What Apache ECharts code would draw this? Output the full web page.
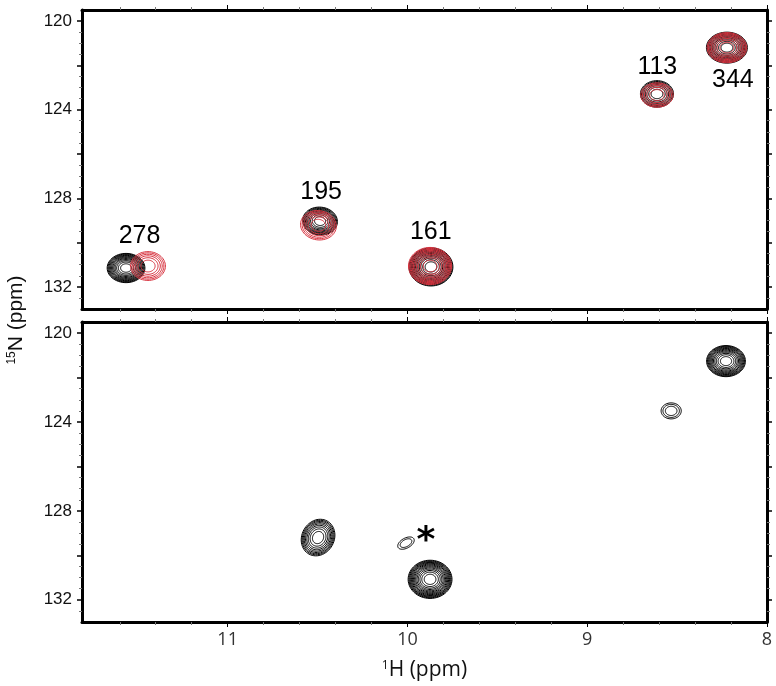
<!DOCTYPE html>
<html><head><meta charset="utf-8">
<script src="https://cdn.jsdelivr.net/npm/echarts@6/dist/echarts.min.js"></script>
<style>html,body{margin:0;padding:0;background:#fff}#c{width:776px;height:686px}</style>
</head><body><div id="c"></div>
<script>
// ---------- axis ticks ----------
const xTickLabels = [8, 9, 10, 11];
const xMajorTicks = [8, 9, 10, 11];
const xMinorTicks = [8.2, 8.4, 8.6, 8.8, 9.2, 9.4, 9.6, 9.8, 10.2, 10.4, 10.6, 10.8, 11.2, 11.4, 11.6];
const yTickLabels = [120, 124, 128, 132];
const yMajorTicks = [120, 122, 124, 126, 128, 130, 132];
const yMinorTicks = [120.5, 121, 121.5, 122.5, 123, 123.5, 124.5, 125, 125.5, 126.5, 127, 127.5,
  128.5, 129, 129.5, 130.5, 131, 131.5, 132.5];

// ---------- top panel, black spectrum ----------
const topBlackH   = [11.565, 10.486, 9.869, 8.612, 8.223];
const topBlackN   = [131.15, 129.03, 131.10, 123.29, 121.20];
const topBlackWH  = [0.105, 0.097, 0.122, 0.092, 0.114];   // half widths (ppm)
const topBlackWN  = [0.66, 0.63, 0.86, 0.60, 0.70];
const topBlackLev = [12, 10, 14, 8, 12];
const topBlackTilt = [0, 0.1, 0, 0, 0];

// ---------- top panel, red spectrum ----------
const topRedH   = [11.443, 10.495, 9.874, 8.612, 8.223];
const topRedN   = [131.06, 129.22, 131.06, 123.34, 121.20];
const topRedWH  = [0.097, 0.100, 0.120, 0.090, 0.110];
const topRedWN  = [0.65, 0.66, 0.84, 0.55, 0.68];
const topRedLev = [6, 6, 10, 5, 8];
const topRedTilt = [0, 0.15, 0, 0, 0];

// ---------- bottom panel, black spectrum ----------
const botH   = [10.497, 10.008, 9.874, 8.533, 8.228];
const botN   = [129.20, 129.45, 131.08, 123.50, 121.26];
const botWH  = [0.090, 0.050, 0.122, 0.056, 0.108];
const botWN  = [0.85, 0.225, 0.86, 0.36, 0.70];
const botLev = [9, 2, 14, 3, 12];
const botTilt = [0.5, -0.5, 0, 0, 0];

// ---------- annotations ----------
const peakLabels = ['278', '195', '161', '113', '344'];
const peakLabelH = [11.49, 10.48, 9.87, 8.61, 8.19];
const peakLabelN = [129.73, 127.70, 129.55, 122.07, 122.66];
const starH = [9.897];
const starN = [129.38];

function rows(H, N, WH, WN, L, T) {
  return H.map((h, i) => [h, N[i], WH[i], WN[i], L[i], T[i]]);
}

function contourRender(color) {
  return function (params, api) {
    const c = api.coord([api.value(0), api.value(1)]);
    const s = api.size([api.value(2), api.value(3)]);
    const n = api.value(4), th = api.value(5);
    const children = [];
    for (let k = 0; k < n; k++) {
      const f = Math.sqrt((n - k) / n);
      const rx = s[0] * f, ry = s[1] * f;
      const pts = [];
      for (let i = 0; i < 60; i++) {
        const t = i / 60 * 2 * Math.PI;
        const ex = rx * Math.cos(t), ey = ry * Math.sin(t);
        pts.push([c[0] + ex * Math.cos(th) - ey * Math.sin(th),
                  c[1] + ex * Math.sin(th) + ey * Math.cos(th)]);
      }
      children.push({ type: 'polygon', shape: { points: pts },
        style: { fill: null, stroke: color, lineWidth: 1 } });
    }
    return { type: 'group', children };
  };
}

const RED = '#d8333f';
const AX = { min: 8, max: 11.81, inverse: true, type: 'value' };
const AY = { min: 119.5, max: 133, inverse: true, type: 'value' };

function xAxes(g) {
  const out = [];
  ['bottom', 'top'].forEach(pos => {
    out.push(Object.assign({}, AX, {
      gridIndex: g, position: pos,
      axisLine: { show: true, onZero: false, lineStyle: { color: '#000', width: 3 } },
      axisTick: { show: true, length: 5, customValues: xMajorTicks, lineStyle: { color: '#000', width: 1 } },
      axisLabel: { show: g === 1 && pos === 'bottom', customValues: xTickLabels, margin: 9,
        fontFamily: 'Open Sans', fontSize: 18, color: '#333' },
      splitLine: { show: false },
      name: (g === 1 && pos === 'bottom') ? '{s|1}{m|H (ppm)}' : '',
      nameLocation: 'middle', nameGap: 38,
      nameTextStyle: { rich: {
        s: { fontFamily: 'Open Sans', fontSize: 12, verticalAlign: 'top', color: '#111' },
        m: { fontFamily: 'Open Sans', fontSize: 21, color: '#111' } } }
    }));
    out.push(Object.assign({}, AX, {
      gridIndex: g, position: pos,
      axisLine: { show: false, onZero: false },
      axisTick: { show: true, length: 3, customValues: xMinorTicks, lineStyle: { color: '#777', width: 1 } },
      axisLabel: { show: false },
      splitLine: { show: false }
    }));
  });
  return out;
}

function yAxes(g) {
  const out = [];
  ['left', 'right'].forEach(pos => {
    out.push(Object.assign({}, AY, {
      gridIndex: g, position: pos,
      axisLine: { show: true, onZero: false, lineStyle: { color: '#000', width: 3 } },
      axisTick: { show: true, length: 5, customValues: yMajorTicks, lineStyle: { color: '#000', width: 1.5 } },
      axisLabel: { show: pos === 'left', customValues: yTickLabels, margin: 10,
        fontFamily: 'Liberation Sans', fontSize: 17, color: '#111' },
      splitLine: { show: false }
    }));
    out.push(Object.assign({}, AY, {
      gridIndex: g, position: pos,
      axisLine: { show: false, onZero: false },
      axisTick: { show: true, length: 3, customValues: yMinorTicks, lineStyle: { color: '#777', width: 1 } },
      axisLabel: { show: false },
      splitLine: { show: false }
    }));
  });
  return out;
}

function contourSeries(g, data, color) {
  return { type: 'custom', xAxisIndex: g * 4, yAxisIndex: g * 4, clip: true,
    renderItem: contourRender(color), data: data, silent: true, animation: false,
    encode: { x: 0, y: 1 } };
}

const chart = echarts.init(document.getElementById('c'), null, { renderer: 'canvas' });
chart.setOption({
  animation: false,
  backgroundColor: '#fff',
  grid: [
    { left: 82, top: 10, width: 685, height: 299 },
    { left: 82, top: 322, width: 685, height: 300 }
  ],
  xAxis: xAxes(0).concat(xAxes(1)),
  yAxis: yAxes(0).concat(yAxes(1)),
  graphic: [{
    type: 'text', x: 16, y: 320, rotation: Math.PI / 2,
    style: { text: '{s|15}{m|N (ppm)}', align: 'center', verticalAlign: 'middle',
      rich: { s: { fontFamily: 'Liberation Sans', fontSize: 12, verticalAlign: 'top', fill: '#111' },
              m: { fontFamily: 'Liberation Sans', fontSize: 21, fill: '#111' } } }
  }],
  series: [
    contourSeries(0, rows(topBlackH, topBlackN, topBlackWH, topBlackWN, topBlackLev, topBlackTilt), '#000'),
    contourSeries(0, rows(topRedH, topRedN, topRedWH, topRedWN, topRedLev, topRedTilt), RED),
    contourSeries(1, rows(botH, botN, botWH, botWN, botLev, botTilt), '#000'),
    {
      type: 'scatter', xAxisIndex: 0, yAxisIndex: 0, symbolSize: 0, silent: true,
      itemStyle: { opacity: 1 },
      data: peakLabels.map((t, i) => ({ name: t, value: [peakLabelH[i], peakLabelN[i]] })),
      label: { show: true, position: 'inside', formatter: p => p.name,
        fontFamily: 'Liberation Sans', fontSize: 25, color: '#000' }
    },
    {
      type: 'scatter', xAxisIndex: 4, yAxisIndex: 4, symbolSize: 0, silent: true,
      itemStyle: { opacity: 1 },
      data: starH.map((h, i) => ({ name: '*', value: [h, starN[i]] })),
      label: { show: true, position: 'inside', formatter: '*',
        fontFamily: 'DejaVu Sans', fontWeight: 'bold', fontSize: 36, color: '#000' }
    }
  ]
});
</script>
</body></html>
